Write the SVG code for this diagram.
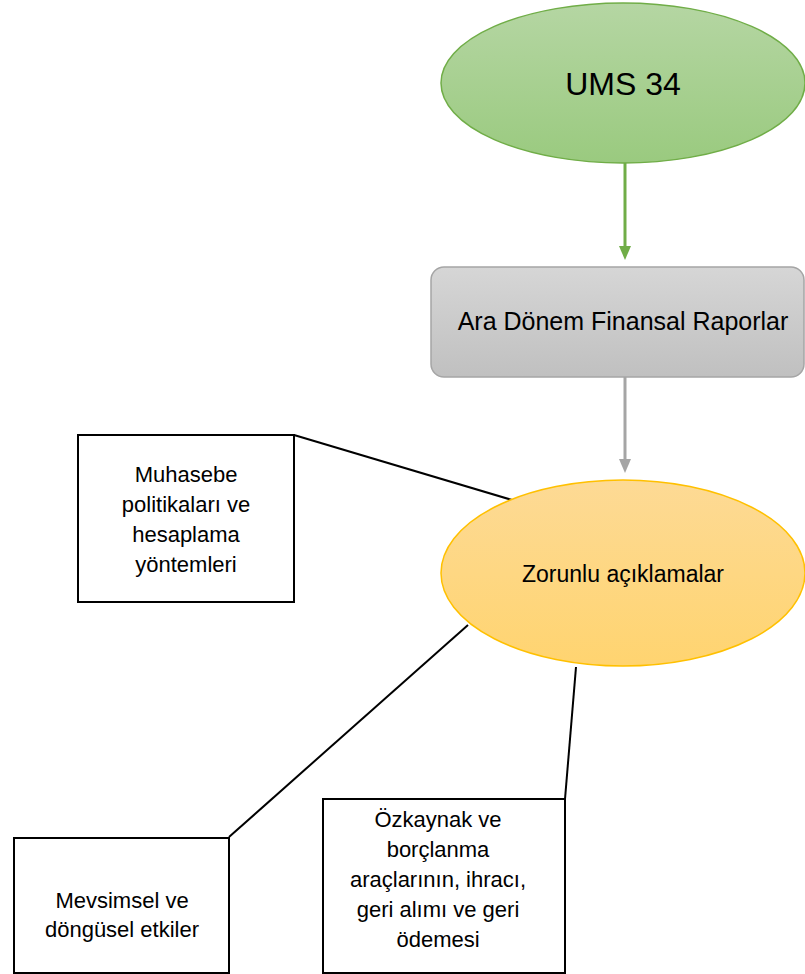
<svg xmlns="http://www.w3.org/2000/svg" width="805" height="974" viewBox="0 0 805 974">
<style>
text{font-family:"Liberation Sans",Arial,sans-serif;fill:#000;text-anchor:middle}
.box{fill:#fff;stroke:#000;stroke-width:2}
.conn{stroke:#000;stroke-width:2;fill:none}
.t{font-size:22px}
</style>
<defs>
<linearGradient id="gG" x1="0" y1="0" x2="0" y2="1"><stop offset="0" stop-color="#B5D6A3"/><stop offset="1" stop-color="#9ACA7F"/></linearGradient>
<linearGradient id="gR" x1="0" y1="0" x2="0" y2="1"><stop offset="0" stop-color="#D6D6D6"/><stop offset="1" stop-color="#C0C0C0"/></linearGradient>
<linearGradient id="gY" x1="0" y1="0" x2="0" y2="1"><stop offset="0" stop-color="#FDDA95"/><stop offset="1" stop-color="#FFD470"/></linearGradient>
<marker id="aG" markerWidth="14" markerHeight="12" refX="2" refY="6" orient="auto" markerUnits="userSpaceOnUse" viewBox="0 0 14 12"><path d="M0,0 L14,6 L0,12 Z" fill="#70AD47"/></marker>
<marker id="aR" markerWidth="14" markerHeight="12" refX="2" refY="6" orient="auto" markerUnits="userSpaceOnUse" viewBox="0 0 14 12"><path d="M0,0 L14,6 L0,12 Z" fill="#A5A5A5"/></marker>
</defs>
<g id="connectors">
<line x1="625" y1="162" x2="625" y2="248" stroke="#70AD47" stroke-width="3" marker-end="url(#aG)"/>
<line x1="625" y1="377" x2="625" y2="461" stroke="#A5A5A5" stroke-width="3" marker-end="url(#aR)"/>
<line class="conn" x1="294" y1="435" x2="512" y2="500"/>
<line class="conn" x1="468" y1="625" x2="229" y2="837"/>
<line class="conn" x1="576" y1="667" x2="565" y2="799"/>
</g>
<g id="ums34">
<ellipse cx="623" cy="83" rx="182" ry="80" fill="url(#gG)" stroke="#70AD47" stroke-width="1.5"/>
<text x="623" y="95" style="font-size:32px">UMS 34</text>
</g>
<g id="ara-donem">
<rect x="431" y="267" width="373" height="110" rx="13" fill="url(#gR)" stroke="#A5A5A5" stroke-width="1.5"/>
<text x="623" y="330" style="font-size:25px">Ara Dönem Finansal Raporlar</text>
</g>
<g id="zorunlu">
<ellipse cx="623" cy="573" rx="182" ry="93" fill="url(#gY)" stroke="#FFC000" stroke-width="1.5"/>
<text x="623" y="582" style="font-size:23px">Zorunlu açıklamalar</text>
</g>
<g id="muhasebe">
<rect class="box" x="78" y="435" width="216" height="167"/>
<text class="t" x="186" y="482">Muhasebe</text>
<text class="t" x="186" y="512">politikaları ve</text>
<text class="t" x="186" y="542">hesaplama</text>
<text class="t" x="186" y="572">yöntemleri</text>
</g>
<g id="mevsimsel">
<rect class="box" x="14" y="838" width="215" height="135"/>
<text class="t" x="122" y="908">Mevsimsel ve</text>
<text class="t" x="122" y="937">döngüsel etkiler</text>
</g>
<g id="ozkaynak">
<rect class="box" x="323" y="799" width="242" height="174"/>
<text class="t" x="438" y="827">Özkaynak ve</text>
<text class="t" x="438" y="857">borçlanma</text>
<text class="t" x="438" y="887">araçlarının, ihracı,</text>
<text class="t" x="438" y="917">geri alımı ve geri</text>
<text class="t" x="438" y="947">ödemesi</text>
</g>
</svg>
